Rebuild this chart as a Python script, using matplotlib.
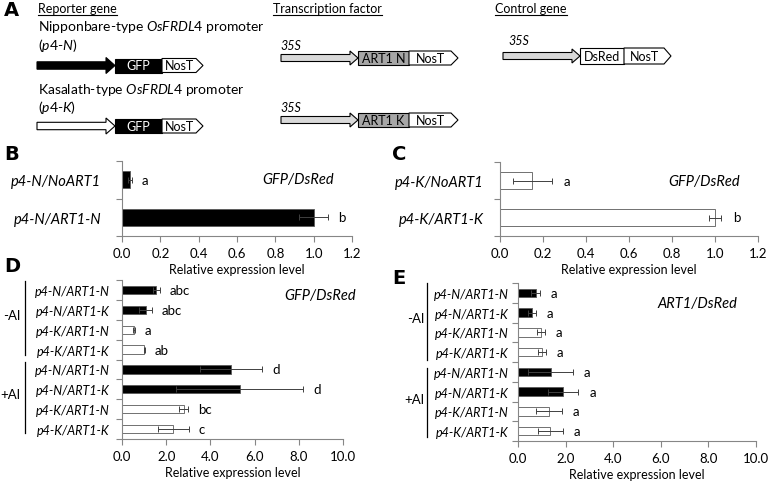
import numpy as np
import matplotlib.pyplot as plt
from matplotlib.patches import Polygon, Rectangle

plt.rcParams['font.family'] = ['Lato', 'DejaVu Sans']
plt.rcParams['mathtext.fontset'] = 'custom'
plt.rcParams['mathtext.rm'] = 'Lato'
plt.rcParams['mathtext.it'] = 'Lato:italic'

# ---- data ----
b_labels = ['p4-N/NoART1', 'p4-N/ART1-N']
b_values = [0.04, 1.00]
b_errs = [0.01, 0.075]
b_letters = ['a', 'b']

c_labels = ['p4-K/NoART1', 'p4-K/ART1-K']
c_values = [0.15, 1.00]
c_errs = [0.09, 0.03]
c_letters = ['a', 'b']

de_labels = ['p4-N/ART1-N', 'p4-N/ART1-K', 'p4-K/ART1-N', 'p4-K/ART1-K'] * 2
groups = ['-Al', '+Al']

d_values = [1.55, 1.07, 0.53, 1.01, 4.95, 5.32, 2.79, 2.31]
d_errs = [0.15, 0.28, 0.04, 0.03, 1.40, 2.87, 0.20, 0.70]
d_letters = ['abc', 'abc', 'a', 'ab', 'd', 'd', 'bc', 'c']

e_values = [0.74, 0.60, 0.97, 1.00, 1.37, 1.90, 1.31, 1.36]
e_errs = [0.20, 0.17, 0.18, 0.18, 0.94, 0.64, 0.54, 0.54]
e_letters = ['a'] * 8

W, H = 770, 485
fig = plt.figure(figsize=(W / 100, H / 100), dpi=100)

GREY = '#868686'
EDGE = '#595959'


def px_axes(l, t, r, b):
    return fig.add_axes([l / W, 1 - b / H, (r - l) / W, (b - t) / H])


def bar_color(lab):
    return 'black' if lab.startswith('p4-N') else 'white'


def bar_panel(box, labels, values, errs, letters, xmax, xstep, title, title_xy,
              lab_fs=9, bar_h=0.45, pad=7):
    ax = px_axes(*box)
    n = len(labels)
    y = np.arange(n)
    ax.barh(y, values, height=bar_h, color=[bar_color(l) for l in labels],
            edgecolor=EDGE, linewidth=0.6, zorder=2)
    ax.errorbar(values, y, xerr=errs, fmt='none', ecolor='#404040',
                elinewidth=0.7, capsize=2, capthick=0.7, zorder=3)
    for yi, v, e, s in zip(y, values, errs, letters):
        ax.text(v + e + 0.045 * xmax, yi, s, va='center', ha='left', fontsize=9.5)
    ax.set_ylim(n - 0.5, -0.5)
    ax.set_xlim(0, xmax)
    ax.set_yticks(y)
    ax.set_yticklabels(labels, fontstyle='italic', fontsize=lab_fs)
    ax.set_yticks(np.arange(n + 1) - 0.5, minor=True)
    ax.tick_params(axis='y', which='major', length=0, pad=pad)
    ax.tick_params(axis='y', which='minor', length=4, color=GREY, width=0.8)
    ticks = np.arange(0, xmax + 1e-9, xstep)
    ax.set_xticks(ticks)
    ax.set_xticklabels([f'{t:.1f}' for t in ticks], fontsize=9.5)
    ax.tick_params(axis='x', length=4, color=GREY, width=0.8, pad=4)
    ax.set_xlabel('Relative expression level', fontsize=9, labelpad=3)
    for s in ['top', 'right']:
        ax.spines[s].set_visible(False)
    for s in ['left', 'bottom']:
        ax.spines[s].set_color(GREY)
        ax.spines[s].set_linewidth(0.8)
    fig.text(title_xy[0] / W, 1 - title_xy[1] / H, title, fontstyle='italic',
             fontsize=10.5, va='center', ha='left')
    return ax


bar_panel((122, 162, 352, 237), b_labels, b_values, b_errs, b_letters,
          1.2, 0.2, 'GFP/DsRed', (262, 180), lab_fs=10.5, pad=15)
bar_panel((500, 163, 758, 237), c_labels, c_values, c_errs, c_letters,
          1.2, 0.2, 'GFP/DsRed', (668, 182), lab_fs=10.5, pad=12)
bar_panel((122, 281, 343, 440), de_labels, d_values, d_errs, d_letters,
          10, 2, 'GFP/DsRed', (284, 296), bar_h=0.42, pad=9)
bar_panel((518, 284, 756, 442), de_labels, e_values, e_errs, e_letters,
          10, 2, 'ART1/DsRed', (657, 304), bar_h=0.42, pad=7)

# ---- overlay layer for panel A schematic, panel letters and -Al/+Al brackets ----
ov = fig.add_axes([0, 0, 1, 1])
ov.set_xlim(0, W)
ov.set_ylim(H, 0)
ov.axis('off')

for letter, (x, y) in zip('ABCDE', [(4, 11), (4, 155), (392, 155), (4, 267), (392, 279)]):
    ov.text(x, y, letter, fontsize=14, fontweight='bold', va='center', ha='left',
            family='DejaVu Sans')

# group brackets
for x_line, x_txt, spans in [(25, 20, [(282, 356), (363, 434)]),
                              (427, 424, [(284, 361), (369, 438)])]:
    for g, (y0, y1) in zip(groups, spans):
        ov.plot([x_line, x_line], [y0, y1], color='black', lw=0.9)
        ov.text(x_txt, (y0 + y1) / 2 - 3, g, fontsize=9.5, ha='right', va='center')


def block_arrow(x0, x1, yc, hs, hh, hl, fc):
    xh = x1 - hl
    pts = [(x0, yc - hs), (xh, yc - hs), (xh, yc - hh), (x1, yc),
           (xh, yc + hh), (xh, yc + hs), (x0, yc + hs)]
    ov.add_patch(Polygon(pts, closed=True, fc=fc, ec='black', lw=0.8))


def box(x0, x1, yc, h, fc, label, tc='black'):
    ov.add_patch(Rectangle((x0, yc - h / 2), x1 - x0, h, fc=fc, ec='black', lw=0.8))
    ov.text((x0 + x1) / 2, yc, label, color=tc, fontsize=9, ha='center', va='center')


def nost(x0, x1, tip, yc, h):
    pts = [(x0, yc - h / 2), (x1, yc - h / 2), (tip, yc), (x1, yc + h / 2), (x0, yc + h / 2)]
    ov.add_patch(Polygon(pts, closed=True, fc='white', ec='black', lw=0.8))
    ov.text((x0 + x1) / 2, yc, 'NosT', fontsize=9, ha='center', va='center')


heads = []
heads.append(ov.text(38, 9, 'Reporter gene', fontsize=9, va='center'))
heads.append(ov.text(273, 9, 'Transcription factor', fontsize=9, va='center'))
heads.append(ov.text(495, 9, 'Control gene', fontsize=9, va='center'))

ov.text(38, 27, r'Nipponbare-type $\mathit{OsFRDL4}$ promoter', fontsize=10, va='center')
ov.text(38, 45, r'($\mathit{p4}$-$\mathit{N}$)', fontsize=10, va='center')
ov.text(38, 90, r'Kasalath-type $\mathit{OsFRDL4}$ promoter', fontsize=10, va='center')
ov.text(38, 108, r'($\mathit{p4}$-$\mathit{K}$)', fontsize=10, va='center')

# reporter constructs
for yc, fc in [(66.5, 'black'), (127, 'white')]:
    block_arrow(37, 115, yc, 3.7, 8, 9, fc)
    box(115, 162, yc, 14, 'black', 'GFP', tc='white')
    nost(162, 196, 203, yc, 14)

# transcription factor constructs
for yc, lab in [(59, 'ART1 N'), (121, 'ART1 K')]:
    ov.text(280, yc - 13, '35S', fontstyle='italic', fontsize=9, va='center')
    block_arrow(281, 358, yc, 3.5, 7, 8, '#d9d9d9')
    box(358, 409, yc, 14, '#a6a6a6', lab)
    nost(409, 451, 458, yc, 14)

# control gene
ov.text(508, 41, '35S', fontstyle='italic', fontsize=9, va='center')
block_arrow(503, 580, 57, 3.5, 7, 8, '#d9d9d9')
box(580, 624, 57, 16, 'white', 'DsRed')
nost(624, 664, 671, 57, 16)

# underline headings
fig.canvas.draw()
for t in heads:
    bb = t.get_window_extent()
    yl = H - bb.y0 + 0.5
    ov.plot([bb.x0, bb.x1], [yl, yl], color='black', lw=0.8)

fig.savefig('out.png', dpi=100)
